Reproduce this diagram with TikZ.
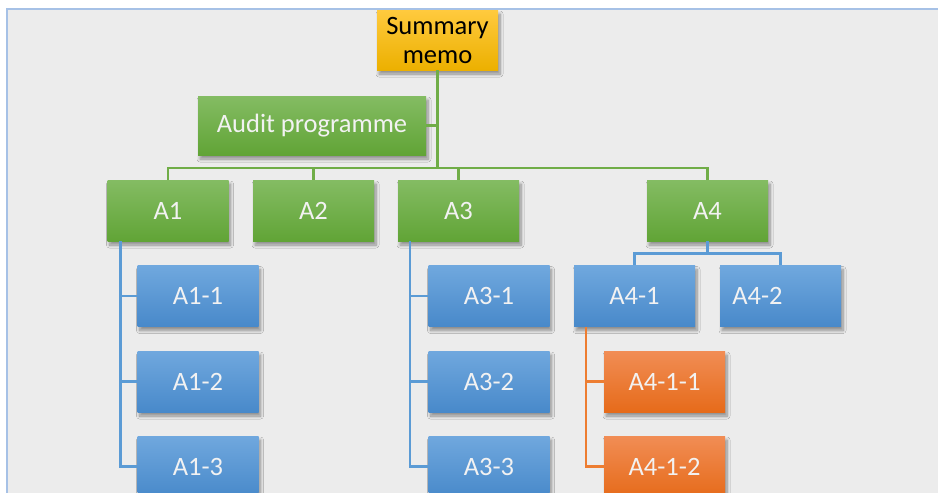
\documentclass[tikz,border=0pt]{standalone}
\usepackage{fontspec}
\setmainfont{Carlito}
\usetikzlibrary{shadows.blur}

\definecolor{panel}{HTML}{ECECEC}
\definecolor{frameblue}{HTML}{A6C1E6}
\definecolor{greentop}{HTML}{84BC63}
\definecolor{greenbot}{HTML}{61A436}
\definecolor{bluetop}{HTML}{70A8DE}
\definecolor{bluebot}{HTML}{4889CA}
\definecolor{orangetop}{HTML}{F18D55}
\definecolor{orangebot}{HTML}{E66B1A}
\definecolor{goldtop}{HTML}{FFCA3E}
\definecolor{goldbot}{HTML}{ECB000}
\definecolor{gline}{HTML}{70AD47}
\definecolor{bline}{HTML}{5B9BD5}
\definecolor{oline}{HTML}{ED7D31}
\definecolor{boxtext}{HTML}{F2F2F2}

\tikzset{
  box/.style={rectangle, minimum width=121, minimum height=61, inner sep=0pt,
    font=\fontsize{26.5}{29}\selectfont, text=boxtext, align=center,
    blur shadow={shadow xshift=2pt, shadow yshift=-4pt, shadow blur steps=8,
      shadow blur radius=3pt, shadow opacity=40}},
  greenbox/.style={box, top color=greentop, bottom color=greenbot},
  bluebox/.style={box, top color=bluetop, bottom color=bluebot},
  orangebox/.style={box, top color=orangetop, bottom color=orangebot},
  goldbox/.style={box, top color=goldtop, bottom color=goldbot, text=black},
  glink/.style={draw=gline, line width=2.6pt},
  blink/.style={draw=bline, line width=2.6pt},
  olink/.style={draw=oline, line width=2.6pt},
}

\begin{document}
\begin{tikzpicture}[x=1pt, y=-1pt]
  \useasboundingbox (0,0) rectangle (938,493);
  % panel behind the chart
  \fill[panel] (7,9) rectangle (940,495);
  \draw[frameblue, line width=2pt] (7,495) -- (7,9) -- (940,9);

  % top of the hierarchy
  \node[goldbox, minimum height=60] (sm) at (437.5,40) {Summary\\memo};
  \node[greenbox, minimum width=228, minimum height=59] (ap) at (312,125.5) {Audit programme};

  % first level
  \node[greenbox] (A1) at (168,210.5) {A1};
  \node[greenbox] (A2) at (313.5,210.5) {A2};
  \node[greenbox] (A3) at (458.5,210.5) {A3};
  \node[greenbox] (A4) at (707.5,210.5) {A4};

  % second level
  \node[bluebox] (A11) at (198,296) {A1-1};
  \node[bluebox] (A12) at (198,381.5) {A1-2};
  \node[bluebox] (A13) at (198,466.5) {A1-3};
  \node[bluebox] (A31) at (489,296) {A3-1};
  \node[bluebox] (A32) at (489,381.5) {A3-2};
  \node[bluebox] (A33) at (489,466.5) {A3-3};
  \node[bluebox] (A41) at (634.5,296) {A4-1};
  \node[bluebox] (A42) at (780.5,296) {A4-2\hspace*{46pt}};

  % third level
  \node[orangebox] (A411) at (664.5,381.5) {A4-1-1};
  \node[orangebox] (A412) at (664.5,466.5) {A4-1-2};

  % connectors
  \coordinate (bus) at (437.5,168);
  \path[glink] (sm.south) -- (bus);
  \path[glink] (ap.east) -- (ap.east -| sm.south);
  \path[glink] (A1.north) |- (bus);
  \path[glink] (A2.north) |- (bus);
  \path[glink] (A3.north) |- (bus);
  \path[glink] (A4.north) |- (bus);

  \path[blink] ([xshift=13pt]A1.south west) |- (A11.west);
  \path[blink] ([xshift=13pt]A1.south west) |- (A12.west);
  \path[blink] ([xshift=13pt]A1.south west) |- (A13.west);
  \path[blink] ([xshift=12pt]A3.south west) |- (A31.west);
  \path[blink] ([xshift=12pt]A3.south west) |- (A32.west);
  \path[blink] ([xshift=12pt]A3.south west) |- (A33.west);
  \path[blink] (A4.south) -- ++(0,12) -| (A41.north);
  \path[blink] (A4.south) -- ++(0,12) -| (A42.north);

  \path[olink] ([xshift=12pt]A41.south west) |- (A411.west);
  \path[olink] ([xshift=12pt]A41.south west) |- (A412.west);
\end{tikzpicture}
\end{document}
